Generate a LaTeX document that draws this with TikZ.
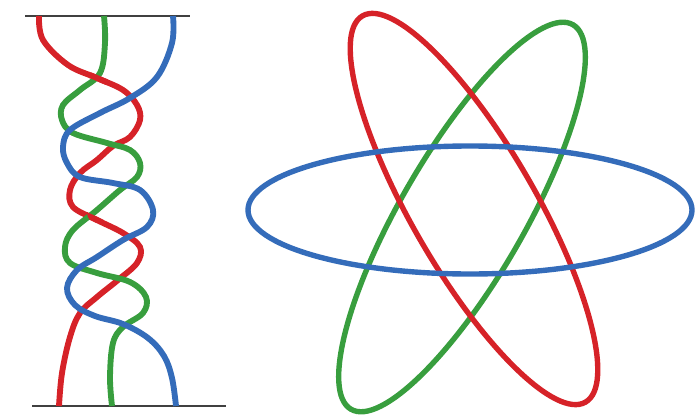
\documentclass[tikz,border=0pt]{standalone}
\definecolor{braidred}{RGB}{214,34,40}
\definecolor{braidgreen}{RGB}{56,158,62}
\definecolor{braidblue}{RGB}{52,108,186}
\newcommand{\redstrand}{\draw[strand,braidred] plot[smooth,tension=.6] coordinates{(39,16) (43,40) (68,65) (97,78) (123,90) (137,105) (140,120) (130,137) (113,146) (97,160) (80,173) (70,190) (73,207) (97,220) (123,233) (140,247) (137,263) (118,280) (97,297) (80,313) (70,337) (62,373) (59,406)};}
\newcommand{\greenstrand}{\draw[strand,braidgreen] plot[smooth,tension=.6] coordinates{(104,16) (105,43) (100,73) (80,90) (63,105) (62,120) (73,133) (107,143) (130,150) (140,163) (137,177) (120,190) (97,210) (73,230) (65,247) (70,263) (97,273) (130,282) (146,297) (143,313) (123,327) (113,343) (110,377) (112,406)};}
\newcommand{\bluestrand}{\draw[strand,braidblue] plot[smooth,tension=.6] coordinates{(173,16) (172,43) (157,77) (130,98) (100,113) (70,130) (63,147) (67,163) (80,177) (113,183) (140,190) (153,210) (147,227) (123,240) (97,257) (77,270) (67,288) (75,305) (95,316) (123,324) (148,338) (164,356) (172,378) (176,406)};}
\begin{document}
\begin{tikzpicture}[x=0.03cm,y=-0.03cm,
		strand/.style={line width=5pt},
		orbit/.style={line width=4.6pt},
		bar/.style={line width=1.4pt,black!75}]
		\useasboundingbox (0,0) rectangle (696,416);
		\draw[bar] (25,16) -- (190,16);
		\draw[bar] (32,406) -- (226,406);
		% braid: green passes over red at two crossings, red over green at the other two
		\redstrand
		\greenstrand
		\foreach \p in {(98,80),(97,213)}{
			\begin{scope}
				\clip \p circle (10);
				\redstrand
			\end{scope}
		}
		\bluestrand
		% closed link
		\draw[orbit,braidgreen,rotate around={60:(462,217)}] (462,217) ellipse [x radius=222,y radius=62];
		\draw[orbit,braidred,rotate around={-60:(474,209)}] (474,209) ellipse [x radius=223,y radius=62];
		\draw[orbit,braidblue] (470,210) ellipse [x radius=222,y radius=64];
		
		\end{tikzpicture}
\end{document}
